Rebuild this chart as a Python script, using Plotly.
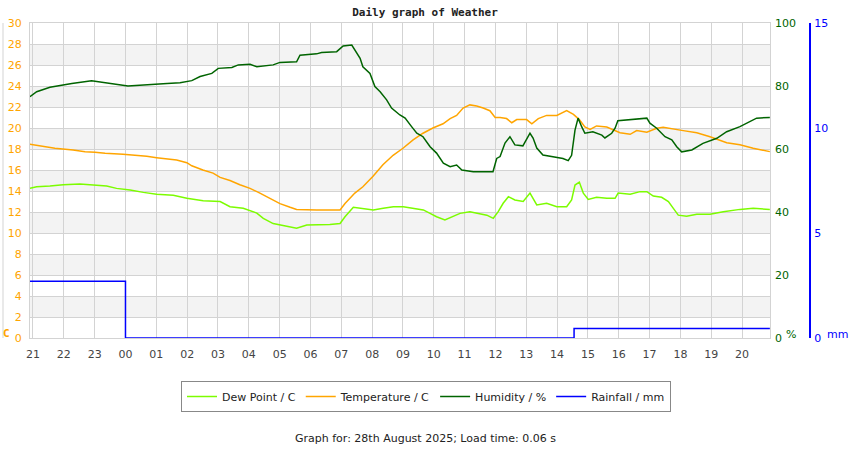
import plotly.graph_objects as go

# x values are hours since 21:00 on the previous day
hour_ticks = list(range(24))
hour_labels = ["21", "22", "23", "00", "01", "02", "03", "04", "05", "06", "07", "08",
               "09", "10", "11", "12", "13", "14", "15", "16", "17", "18", "19", "20"]

hum_x = [-0.10, 0.12, 0.55, 0.71, 1.26, 1.90, 2.59, 3.08, 4.35, 4.77, 5.15, 5.42, 5.80, 6.01,
         6.45, 6.66, 7.04, 7.26, 7.79, 8.01, 8.55, 8.66, 9.20, 9.36, 9.85, 10.06, 10.34, 10.38,
         10.61, 10.70, 10.93, 11.09, 11.26, 11.47, 11.63, 11.90, 12.07, 12.28, 12.45, 12.65,
         12.88, 13.09, 13.31, 13.53, 13.74, 13.91, 14.28, 14.92, 15.04, 15.15, 15.31, 15.47,
         15.63, 15.89, 16.12, 16.22, 16.34, 16.54, 16.99, 17.19, 17.36, 17.47, 17.58, 17.68,
         17.80, 17.90, 18.16, 18.45, 18.55, 18.77, 18.88, 18.97, 19.91, 20.01, 20.23, 20.50,
         20.72, 20.88, 21.04, 21.37, 21.73, 22.18, 22.50, 22.93, 23.47, 23.90]
hum_y = [76.6, 78.2, 79.6, 79.9, 80.8, 81.7, 80.8, 80.0, 80.8, 81.0, 81.7, 83.0, 84.0, 85.6,
         85.9, 86.7, 86.9, 86.1, 86.7, 87.5, 87.7, 89.8, 90.2, 90.6, 90.9, 92.7, 93.0, 92.4,
         88.8, 86.1, 84.0, 79.8, 78.2, 75.6, 73.0, 70.8, 69.8, 67.1, 65.0, 63.9,
         60.7, 58.7, 55.5, 54.4, 54.9, 53.3, 52.8, 52.8, 57.0, 57.6, 61.9, 63.9,
         61.3, 61.0, 65.0, 63.5, 60.3, 58.1, 57.2, 57.0, 56.3, 58.0, 66.0, 69.8,
         67.0, 65.0, 65.5, 64.4, 63.5, 65.0, 66.6, 69.0, 69.8, 68.2, 66.6, 63.9,
         62.9, 60.7, 59.1, 59.7, 61.8, 63.4, 65.5, 67.1, 69.8, 70.0]

temp_x = [-0.10, 0.23, 0.71, 1.30, 1.69, 2.01, 2.34, 2.92, 3.36, 3.69, 4.01, 4.34, 4.66, 4.99,
          5.15, 5.51, 5.84, 6.07, 6.39, 6.71, 7.04, 7.36, 7.69, 8.01, 8.34, 8.55, 9.20, 9.96,
          10.12, 10.44, 10.70, 11.03, 11.35, 11.68, 12.00, 12.33, 12.65, 12.97, 13.30, 13.53,
          13.74, 13.95, 14.17, 14.39, 14.60, 14.82, 14.99, 15.15, 15.36, 15.53, 15.69, 16.01,
          16.18, 16.39, 16.66, 16.99, 17.31, 17.53, 17.72, 17.90, 18.07, 18.28, 18.61, 18.88,
          19.04, 19.37, 19.58, 19.91, 20.23, 20.44, 20.77, 21.09, 21.53, 21.96, 22.50, 22.93,
          23.36, 23.90]
temp_y = [18.45, 18.3, 18.07, 17.9, 17.75, 17.7, 17.6, 17.5, 17.4, 17.3, 17.17, 17.05, 16.95, 16.7,
          16.4, 16.0, 15.7, 15.3, 15.0, 14.6, 14.25, 13.8, 13.3, 12.8, 12.45, 12.25, 12.2, 12.2,
          12.8, 13.8, 14.4, 15.4, 16.5, 17.4, 18.07, 18.86, 19.5, 20.0, 20.4, 20.9,
          21.2, 21.9, 22.2, 22.1, 21.9, 21.65, 21.0, 21.0, 20.9, 20.5, 20.8, 20.8,
          20.4, 20.9, 21.2, 21.2, 21.65, 21.3, 20.8, 20.1, 19.87, 20.2, 20.1, 19.8,
          19.55, 19.4, 19.75, 19.6, 19.97, 20.07, 19.87, 19.75, 19.55, 19.17, 18.6, 18.4,
          18.07, 17.75]

dew_x = [-0.10, 0.12, 0.55, 0.98, 1.52, 2.07, 2.39, 2.71, 3.15, 3.58, 4.01, 4.55, 4.99, 5.52,
         6.07, 6.39, 6.82, 7.26, 7.47, 7.79, 8.23, 8.55, 8.88, 9.63, 9.96, 10.12, 10.39, 10.71,
         11.04, 11.36, 11.69, 12.01, 12.34, 12.66, 12.88, 13.09, 13.36, 13.63, 13.85, 14.17,
         14.50, 14.72, 14.93, 15.09, 15.25, 15.42, 15.63, 15.90, 16.12, 16.34, 16.66, 16.99,
         17.31, 17.47, 17.58, 17.72, 17.85, 18.01, 18.28, 18.61, 18.88, 18.98, 19.37, 19.69,
         19.91, 20.12, 20.39, 20.61, 20.77, 20.93, 21.20, 21.53, 21.96, 22.39, 22.93, 23.36, 23.90]
dew_y = [14.25, 14.4, 14.48, 14.6, 14.67, 14.57, 14.48, 14.25, 14.1, 13.87, 13.7, 13.6, 13.3, 13.07,
         13.0, 12.5, 12.35, 11.9, 11.4, 10.9, 10.67, 10.45, 10.76, 10.8, 10.9, 11.55, 12.45, 12.35,
         12.2, 12.35, 12.5, 12.5, 12.35, 12.2, 11.87, 11.55, 11.24, 11.55, 11.87, 12.03,
         11.87, 11.7, 11.4, 12.03, 12.83, 13.46, 13.14, 13.0, 13.8, 12.67, 12.83, 12.5,
         12.5, 13.14, 14.57, 14.85, 13.8, 13.2, 13.4, 13.3, 13.3, 13.8, 13.7, 13.94,
         13.94, 13.52, 13.4, 13.0, 12.35, 11.7, 11.6, 11.78, 11.78, 12.03, 12.25, 12.35, 12.25]

rain_x = [-0.10, 3.00, 17.55, 23.90]
rain_y = [2.7, 0.0, 0.45, 0.45]

temp_ticks = list(range(0, 31, 2))
hum_ticks = [0, 20, 40, 60, 80, 100]
rain_ticks = [0, 5, 10, 15]

ORANGE = "#FFA500"
DGREEN = "#006400"
LGREEN = "#7CFC00"
BLUE = "#0000FF"
GRID = "#d3d3d3"

fig = go.Figure()
fig.add_trace(go.Scatter(x=dew_x, y=dew_y, mode="lines", name="Dew Point / C",
                         line=dict(color=LGREEN, width=1.5), yaxis="y"))
fig.add_trace(go.Scatter(x=temp_x, y=temp_y, mode="lines", name="Temperature / C",
                         line=dict(color=ORANGE, width=1.5), yaxis="y"))
fig.add_trace(go.Scatter(x=hum_x, y=hum_y, mode="lines", name="Humidity / %",
                         line=dict(color=DGREEN, width=1.5), yaxis="y2"))
fig.add_trace(go.Scatter(x=rain_x, y=rain_y, mode="lines", name="Rainfall / mm",
                         line=dict(color=BLUE, width=1.5, shape="hv"), yaxis="y3"))

W, H = 850, 450
ML, MR, MT, MB = 30, 30, 23, 112
pw = W - ML - MR
ph = H - MT - MB
plot_right = 770
dom_r = (plot_right - ML) / pw

shapes = []
for lo in range(2, 30, 4):
    shapes.append(dict(type="rect", xref="x domain", yref="y", x0=0, x1=1, y0=lo, y1=lo + 2,
                       fillcolor="#f3f3f3", line=dict(width=0), layer="below"))
shapes.append(dict(type="line", xref="paper", yref="paper", x0=(3 - ML) / pw, x1=(3 - ML) / pw,
                   y0=0, y1=1, line=dict(color=GRID, width=1)))

fig.update_layout(
    width=W, height=H,
    margin=dict(l=ML, r=MR, t=MT, b=MB, autoexpand=False),
    paper_bgcolor="white", plot_bgcolor="white",
    font=dict(family="DejaVu Sans", size=11, color="#333"),
    title=dict(text="<b>Daily graph of Weather</b>", x=0.5, xanchor="center",
               y=1 - 12 / H, yanchor="middle", yref="container",
               font=dict(family="DejaVu Sans Mono", size=11, color="#222")),
    xaxis=dict(domain=[0, dom_r], range=[-0.097, 23.905], tickvals=hour_ticks, ticktext=hour_labels,
               showgrid=True, gridcolor=GRID, gridwidth=1, zeroline=False, automargin=False,
               showline=True, linecolor=GRID, mirror=True, ticks="", ticklabelstandoff=6,
               tickfont=dict(color="#444", size=11)),
    yaxis=dict(range=[0, 30], tickvals=temp_ticks, showgrid=True, gridcolor=GRID, zeroline=False,
               showline=True, linecolor=GRID, mirror=True, ticks="", ticklabelstandoff=5,
               automargin=False, tickfont=dict(color=ORANGE, size=11)),
    yaxis2=dict(range=[0, 100], tickvals=hum_ticks, overlaying="y", side="right", anchor="x",
                showgrid=False, zeroline=False, showline=False, ticks="", ticklabelstandoff=4,
                automargin=False, tickfont=dict(color=DGREEN, size=11)),
    yaxis3=dict(range=[0, 15], tickvals=rain_ticks, overlaying="y", side="right", anchor="free",
                position=(810 - ML) / pw, showgrid=False, zeroline=False, showline=True,
                linecolor=BLUE, linewidth=2, ticks="", ticklabelstandoff=1, automargin=False,
                tickfont=dict(color=BLUE, size=11)),
    legend=dict(orientation="h", x=(426 - ML) / pw, xanchor="center", y=(338 - 381) / ph, yanchor="top",
                bordercolor="#888", borderwidth=1, bgcolor="white",
                font=dict(size=11, color="#222"), itemwidth=30),
    shapes=shapes,
    annotations=[
        dict(text="<b>C</b>", xref="paper", yref="paper", x=(6 - ML) / pw, y=(338 - 333) / ph,
             showarrow=False, font=dict(color=ORANGE, size=11, family="DejaVu Sans Mono"),
             xanchor="center", yanchor="middle"),
        dict(text="%", xref="paper", yref="paper", x=(784 - ML) / pw, y=(338 - 334) / ph,
             showarrow=False, font=dict(color=DGREEN, size=11), xanchor="left", yanchor="middle"),
        dict(text="mm", xref="paper", yref="paper", x=(825 - ML) / pw, y=(338 - 334) / ph,
             showarrow=False, font=dict(color=BLUE, size=11), xanchor="left", yanchor="middle"),
        dict(text="Graph for: 28th August 2025; Load time: 0.06 s", xref="paper", yref="paper",
             x=(425 - ML) / pw, y=(338 - 438) / ph, showarrow=False,
             font=dict(color="#222", size=11), xanchor="center", yanchor="middle"),
    ],
)

fig.write_html("out.html", config={"displayModeBar": False},
               post_script="document.body.style.margin='0';document.body.style.overflow='hidden';")
